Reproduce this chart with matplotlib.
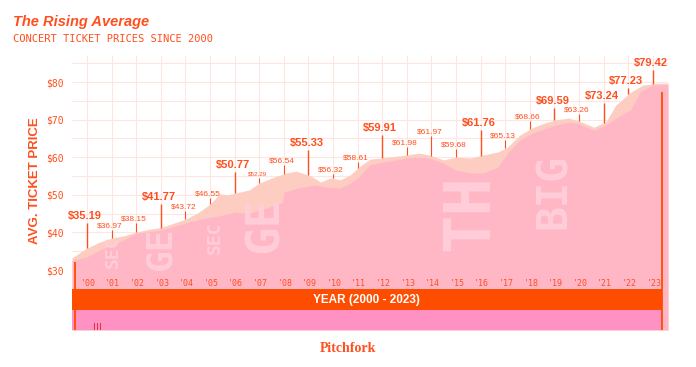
import matplotlib
matplotlib.use('Agg')
from matplotlib import pyplot as plt
import numpy as np

# Yearly average ticket price (the callouts)
years = list(range(2000, 2024))
prices = [35.19, 36.97, 38.15, 41.77, 43.72, 46.55, 50.77, 52.29,
          56.54, 55.33, 56.32, 58.61, 59.91, 61.98, 61.97, 59.68,
          61.76, 65.13, 68.66, 69.59, 63.26, 73.24, 77.23, 79.42]
big_years = [2000, 2003, 2006, 2009, 2012, 2016, 2019, 2021, 2022, 2023]
tiny_years = [2007]

# Outline of the light (upper) area
upper_x = [1999.39, 1999.7, 2000.0, 2000.5, 2001.0, 2001.5, 2002.0, 2002.5,
           2003.0, 2003.5, 2004.0, 2004.5, 2005.0, 2005.4, 2005.7, 2006.0,
           2006.6, 2007.0, 2007.6, 2008.1, 2008.5, 2009.1, 2009.5, 2009.9,
           2010.3, 2010.7, 2011.0, 2011.5, 2012.0, 2012.5, 2013.0, 2013.5,
           2013.9, 2014.5, 2015.0, 2015.6, 2016.1, 2016.7, 2017.1, 2017.6,
           2018.1, 2018.6, 2019.1, 2019.6, 2020.1, 2020.6, 2021.1, 2021.5,
           2022.1, 2022.6, 2023.2, 2023.62]
upper_y = [33.2, 34.6, 35.8, 37.4, 38.5, 39.1, 40.1, 40.8,
           41.3, 42.4, 43.5, 45.2, 47.5, 50.3, 50.0, 50.4,
           51.3, 53.1, 54.7, 55.8, 56.3, 55.0, 53.4, 54.5,
           54.0, 55.3, 57.1, 59.5, 59.8, 60.2, 60.6, 61.1,
           60.6, 59.3, 60.0, 59.8, 60.6, 61.4, 62.7, 65.9,
           67.8, 69.1, 70.0, 70.4, 69.4, 68.0, 69.4, 73.9,
           77.3, 79.2, 79.7, 79.7]

# Outline of the pink (lower) area
lower_x = [1999.39, 2000.0, 2000.5, 2001.0, 2001.5, 2002.0, 2002.5, 2003.0,
           2003.5, 2004.0, 2004.6, 2005.0, 2005.5, 2006.0, 2006.6, 2007.3,
           2007.95, 2008.0, 2008.7, 2009.3, 2009.8, 2010.3, 2010.7, 2011.0,
           2011.5, 2012.0, 2012.5, 2013.0, 2013.5, 2013.9, 2014.5, 2015.0,
           2015.6, 2016.1, 2016.7, 2017.1, 2017.6, 2018.1, 2018.6, 2019.1,
           2019.6, 2020.1, 2020.6, 2021.1, 2021.5, 2022.1, 2022.5, 2023.0,
           2023.62]
lower_y = [32.5, 33.5, 35.3, 36.6, 38.0, 39.8, 40.2, 40.6,
           41.5, 42.5, 43.5, 44.0, 44.6, 45.4, 45.1, 46.5,
           48.0, 50.7, 52.0, 52.6, 52.0, 51.8, 53.1, 54.5,
           58.0, 58.7, 59.2, 59.8, 60.0, 59.8, 58.4, 56.6,
           55.8, 55.8, 57.4, 61.1, 64.6, 66.4, 67.6, 68.6,
           69.4, 68.6, 67.2, 68.6, 70.4, 72.6, 77.5, 79.2,
           79.3]

# where the callout text sits (layout only)
label_y = [44.4, 41.7, 43.6, 49.4, 46.8, 50.2, 57.9, 55.5, 59.0, 63.8,
           56.6, 59.8, 67.8, 63.8, 66.7, 63.2, 69.1, 65.6, 70.7, 75.0,
           72.6, 76.3, 80.3, 85.0]

# faint background lettering
wm_text = ['SEC', 'GE', 'SEC', 'GE', 'TH', 'BIG']
wm_x = [2001.06, 2002.97, 2005.2, 2007.24, 2015.57, 2018.98]
wm_y = [34.8, 35.8, 38.5, 42.2, 45.4, 51.0]
wm_size = [13, 26, 13, 34, 46, 30]

RED = '#ff4f1f'
ORANGE = '#ff4d00'
PEACH = '#fecdc2'
PINK = '#ffb7c6'
GRID = '#ffe5e0'
MONO = 'DejaVu Sans Mono'
SANS = 'Liberation Sans'


def main():
    fig = plt.figure(figsize=(6.96, 3.67), dpi=100)
    ax = fig.add_axes([72 / 696, 37 / 367, 596 / 696, 275 / 367])
    x0, x1 = 1999.39, 2023.62
    y0, y1 = 14.04, 87.2
    ax.set_xlim(x0, x1)
    ax.set_ylim(y0, y1)
    for s in ax.spines.values():
        s.set_visible(False)
    ax.set_xticks([])

    # grid
    ax.hlines(np.arange(30, 86, 5), x0, x1, color=GRID, lw=0.8, zorder=0)
    ax.vlines(years, 30, y1, color=GRID, lw=0.8, zorder=0)

    # the two area layers
    top = ax.fill_between(upper_x, y0, upper_y, color=PEACH, lw=0, zorder=1)
    ax.fill_between(lower_x, y0, lower_y, color=PINK, lw=0, zorder=2)

    # faint lettering, kept inside the area
    clip = top.get_paths()[0]
    for t, x, y, s in zip(wm_text, wm_x, wm_y, wm_size):
        txt = ax.text(x, y, t, rotation=90, ha='center', va='center',
                      fontsize=s, family=MONO, weight='bold',
                      color='#ffcdd8', zorder=3)
        txt.set_clip_path(clip, ax.transData)

    # bands under the chart
    ax.fill_between([x0, 2023.36], 19.36, 24.95, color=ORANGE, lw=0, zorder=5)
    ax.fill_between([x0, 2023.36], y0, 19.36, color='#ff91c3', lw=0, zorder=5)
    ax.text((x0 + 2023.36) / 2, 22.15, 'YEAR (2000 - 2023)', ha='center',
            va='center', color='white', fontsize=8.5, weight='bold',
            family=SANS, zorder=6)
    ax.vlines(1999.51, y0, 32, color=ORANGE, lw=1.3, zorder=6)
    ax.vlines(2023.36, y0, 77.3, color=ORANGE, lw=1.3, zorder=6)
    ax.text(2000.25, 14.6, '|||', ha='left', va='center', color='#e8202a',
            fontsize=6, weight='bold', zorder=6, clip_on=True)

    # year ticks
    for yr in years:
        ax.text(yr + 0.05, 26.3, "'%02d" % (yr - 2000), ha='center',
                va='center', fontsize=6, family=MONO, color=RED, zorder=6)

    # callouts
    for yr, p, ly in zip(years, prices, label_y):
        base = np.interp(yr, upper_x, upper_y)
        if yr in big_years:
            size, weight, gap, lw = 8, 'bold', 1.9, 1.0
        elif yr in tiny_years:
            size, weight, gap, lw = 4.5, 'normal', 0.9, 0.8
        else:
            size, weight, gap, lw = 6, 'normal', 1.1, 0.8
        ax.vlines(yr, base, ly - gap, color=RED, lw=lw, zorder=7)
        ax.text(yr - 0.08, ly, '$%.2f' % p, ha='center', va='center',
                fontsize=size, weight=weight, family=SANS, color=RED,
                zorder=7)

    # y axis
    ax.set_yticks(range(30, 81, 10))
    ax.set_yticklabels(['$%d' % v for v in range(30, 81, 10)])
    ax.tick_params(axis='y', length=0, pad=6, labelsize=7, labelcolor=RED)
    for lab in ax.get_yticklabels():
        lab.set_family(MONO)
    fig.text(35 / 696, 1 - 181 / 367, 'AVG. TICKET PRICE', rotation=90,
             ha='center', va='center', fontsize=9.5, weight='bold',
             family=SANS, color=RED)

    # titles and footer
    fig.text(13 / 696, 1 - 22 / 367, 'The Rising Average', ha='left',
             va='center', fontsize=10.5, weight='bold', style='italic',
             family=SANS, color=RED)
    fig.text(13 / 696, 1 - 39 / 367, 'CONCERT TICKET PRICES SINCE 2000',
             ha='left', va='center', fontsize=7.5, family=MONO, color=RED)
    fig.text(348 / 696, 1 - 348 / 367, 'Pitchfork', ha='center',
             va='center', fontsize=10, weight='bold',
             family='Liberation Serif', color=RED)

    fig.savefig('out.png', dpi=100)


if __name__ == '__main__':
    main()
